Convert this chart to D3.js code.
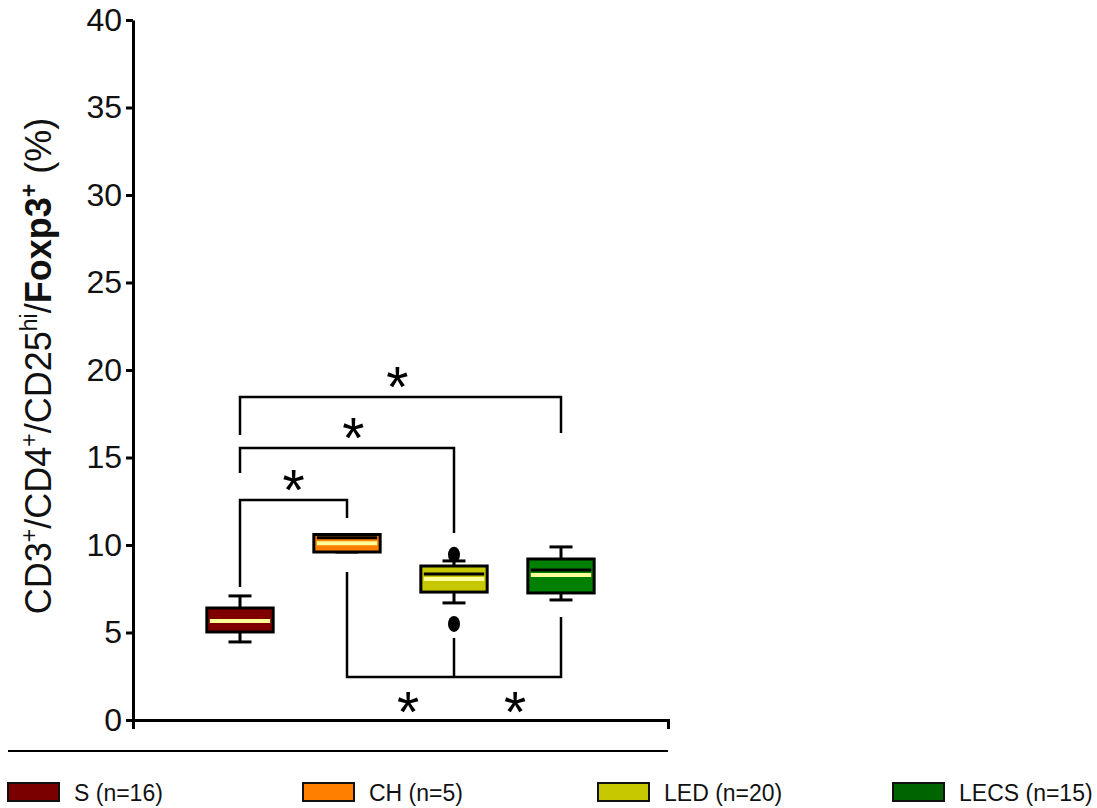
<!DOCTYPE html>
<html>
<head>
<meta charset="utf-8">
<script src="https://cdn.jsdelivr.net/npm/d3@7"></script>
<style>
  body { margin: 0; background: #fff; }
  svg { display: block; font-family: Arial, "Liberation Sans", sans-serif; }
</style>
</head>
<body>
<svg id="chart" width="1097" height="808"></svg>
<script>
// groups and box stats
const groups = ['S', 'CH', 'LED', 'LECS']
const counts = [16, 5, 20, 15]
const q1 = [5.03, 9.6, 7.31, 7.26]
const q3 = [6.4, 10.6, 8.8, 9.2]
const medians = [5.66, 10.1, 8.06, 8.29]
const means = [5.66, 10.42, 8.34, 8.57]
const whiskerLow = [4.46, 9.6, 6.69, 6.86]
const whiskerHigh = [7.09, 10.6, 9.09, 9.89]
const outlierGroup = ['LED', 'LED']
const outlierValue = [9.45, 5.49]

const boxFills = ['#800000', '#ff8000', '#c8c800', '#008000']
const legendFills = ['#7a0000', '#ff8000', '#c8c800', '#006400']
const yTicks = [0, 5, 10, 15, 20, 25, 30, 35, 40]

// significance brackets above the boxes
const brackets = [
    { from: 'S', to: 'CH', bar: 12.57, legFrom: 7.6, legTo: 11.54, star: 0.5 },
    { from: 'S', to: 'LED', bar: 15.54, legFrom: 14.11, legTo: 10.69, star: 0.53 },
    { from: 'S', to: 'LECS', bar: 18.46, legFrom: 16.29, legTo: 16.4, star: 0.49 }
]
// bracket below the boxes (CH - LED - LECS)
const lowBar = 2.46
const lowLegGroup = ['CH', 'LED', 'LECS']
const lowLegTop = [8.46, 4.69, 5.89]
const lowStars = [['CH', 'LED'], ['LED', 'LECS']]

const width = 1097,
    height = 808
const margin = { top: 20, left: 133, right: 429, bottom: 88 }

const svg = d3.select('#chart')

const x = d3.scalePoint()
    .domain(groups)
    .range([margin.left, width - margin.right])
    .padding(1)

const y = d3.scaleLinear()
    .domain([0, 40])
    .range([height - margin.bottom, margin.top])

const boxW = x.step() * 0.62,
    capW = 23

// y axis
const yAxis = svg.append('g')
    .attr('transform', `translate(${margin.left},0)`)
    .call(d3.axisLeft(y).tickValues(yTicks).tickSize(7).tickSizeOuter(0).tickPadding(4))
yAxis.selectAll('path, line').attr('stroke', '#000').attr('stroke-width', 3)
yAxis.selectAll('text')
    .attr('font-size', 32)
    .attr('font-family', 'Arial, "Liberation Sans", sans-serif')
    .attr('fill', '#111')

// x axis, just the line with the end ticks
const xAxis = svg.append('g')
    .attr('transform', `translate(0,${y(0)})`)
    .call(d3.axisBottom(x).tickValues([]).tickSizeOuter(9))
xAxis.select('path').attr('stroke', '#000').attr('stroke-width', 3)

// y title
const title = svg.append('text')
    .attr('transform', `translate(51,${(y(0) + y(40)) / 2 - 4}) rotate(-90)`)
    .attr('text-anchor', 'middle')
    .attr('font-size', 36)
    .attr('fill', '#111')
const parts = [
    ['CD3', 0], ['+', 1], ['/CD4', 0], ['+', 1], ['/CD25', 0], ['hi', 1],
    ['/', 0], ['Foxp3', 2], ['+', 3], [' (%)', 0]
]
let raised = false
parts.forEach(p => {
    const sup = p[1] === 1 || p[1] === 3
    const t = title.append('tspan').text(p[0])
    if (sup && !raised) t.attr('dy', -14)
    if (!sup && raised) t.attr('dy', 14)
    raised = sup
    if (sup) t.attr('font-size', 23)
    if (p[1] >= 2) t.attr('font-weight', 'bold')
})

// brackets above
const lineStyle = sel => sel.attr('fill', 'none').attr('stroke', '#000').attr('stroke-width', 2.5)

brackets.forEach(b => {
    svg.append('path')
        .attr('d', d3.line()([
            [x(b.from), y(b.legFrom)], [x(b.from), y(b.bar)],
            [x(b.to), y(b.bar)], [x(b.to), y(b.legTo)]
        ]))
        .call(lineStyle)
    svg.append('text')
        .attr('x', x(b.from) + (x(b.to) - x(b.from)) * b.star)
        .attr('y', y(b.bar) - 22 + 32)
        .attr('text-anchor', 'middle')
        .attr('font-size', 57)
        .text('*')
})

// bracket below
svg.append('path')
    .attr('d', d3.line()([
        [x(lowLegGroup[0]), y(lowLegTop[0])], [x(lowLegGroup[0]), y(lowBar)],
        [x(lowLegGroup[2]), y(lowBar)], [x(lowLegGroup[2]), y(lowLegTop[2])]
    ]))
    .call(lineStyle)
svg.append('line')
    .attr('x1', x(lowLegGroup[1])).attr('x2', x(lowLegGroup[1]))
    .attr('y1', y(lowLegTop[1])).attr('y2', y(lowBar))
    .call(lineStyle)
lowStars.forEach(s => {
    svg.append('text')
        .attr('x', x(s[0]) + (x(s[1]) - x(s[0])) * 0.57)
        .attr('y', y(lowBar) + 23 + 32)
        .attr('text-anchor', 'middle')
        .attr('font-size', 57)
        .text('*')
})

// boxes
const boxes = svg.append('g')
    .selectAll('g')
    .data(groups)
    .enter()
    .append('g')

boxes.append('line')
    .attr('x1', d => x(d)).attr('x2', d => x(d))
    .attr('y1', (d, i) => y(whiskerLow[i]))
    .attr('y2', (d, i) => y(whiskerHigh[i]))
    .attr('stroke', '#000').attr('stroke-width', 3)
boxes.selectAll('.cap')
    .data((d, i) => [whiskerLow[i], whiskerHigh[i]].map(v => ({ g: d, v: v })))
    .enter()
    .append('line')
    .attr('class', 'cap')
    .attr('x1', d => x(d.g) - capW / 2).attr('x2', d => x(d.g) + capW / 2)
    .attr('y1', d => y(d.v)).attr('y2', d => y(d.v))
    .attr('stroke', '#000').attr('stroke-width', 3)

boxes.append('rect')
    .attr('x', d => x(d) - boxW / 2)
    .attr('y', (d, i) => y(q3[i]))
    .attr('width', boxW)
    .attr('height', (d, i) => y(q1[i]) - y(q3[i]))
    .attr('fill', (d, i) => boxFills[i])
    .attr('stroke', '#000').attr('stroke-width', 3)

// mean (black) then median (light yellow)
boxes.append('line')
    .attr('x1', d => x(d) - boxW / 2 + 3).attr('x2', d => x(d) + boxW / 2 - 3)
    .attr('y1', (d, i) => y(means[i])).attr('y2', (d, i) => y(means[i]))
    .attr('stroke', '#000').attr('stroke-width', 3)
boxes.append('line')
    .attr('x1', d => x(d) - boxW / 2 + 3).attr('x2', d => x(d) + boxW / 2 - 3)
    .attr('y1', (d, i) => y(medians[i])).attr('y2', (d, i) => y(medians[i]))
    .attr('stroke', '#ffff99').attr('stroke-width', 4)

svg.append('g')
    .selectAll('ellipse')
    .data(outlierValue)
    .enter()
    .append('ellipse')
    .attr('cx', (d, i) => x(outlierGroup[i]))
    .attr('cy', d => y(d))
    .attr('rx', 6).attr('ry', 8)
    .attr('fill', '#000')

// separator under the plot
svg.append('line')
    .attr('x1', 8).attr('x2', x.range()[1])
    .attr('y1', y(0) + 31).attr('y2', y(0) + 31)
    .attr('stroke', '#000').attr('stroke-width', 2)

// legend
const legendX = d3.scaleLinear().domain([0, 3]).range([8, 893])
const legend = svg.append('g')
    .selectAll('g')
    .data(groups)
    .enter()
    .append('g')
    .attr('transform', (d, i) => `translate(${legendX(i)},783)`)
legend.append('rect')
    .attr('width', 51).attr('height', 18)
    .attr('fill', (d, i) => legendFills[i])
    .attr('stroke', '#111').attr('stroke-width', 2)
legend.append('text')
    .attr('x', 66).attr('y', 18)
    .attr('font-size', 23)
    .attr('fill', '#111')
    .text((d, i) => `${d} (n=${counts[i]})`)
</script>
</body>
</html>
